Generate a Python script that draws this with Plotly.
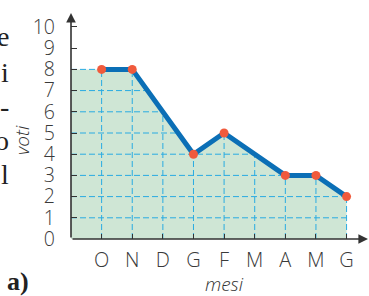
import numpy as np
import plotly.graph_objects as go

# ---- data ----
mesi = ["O", "N", "D", "G", "F", "M", "A", "M", "G"]
voti = [8, 8, None, 4, 5, None, 3, 3, 2]
y_ticks = list(range(0, 11))
frammenti = ["e", "i", "-", "o", "l"]

x_pos = list(range(1, len(mesi) + 1))
known_x = [x for x, v in zip(x_pos, voti) if v is not None]
known_v = [v for v in voti if v is not None]

def curve(x):
    return float(np.interp(x, known_x, known_v))

fig = go.Figure()

# green area under the curve (starting from the y axis at the first value)
fill_x = [0] + known_x + [known_x[-1], 0]
fill_y = [known_v[0]] + known_v + [0, 0]
fig.add_trace(go.Scatter(x=fill_x, y=fill_y, mode="lines", fill="toself",
                         fillcolor="#cfe6d5", line=dict(width=0),
                         hoverinfo="skip", showlegend=False))

# dashed guide lines under the curve
gx, gy = [], []
xs_fine = np.linspace(0, known_x[-1], 2001)
for k in range(1, int(max(known_v)) + 1):
    ok = [x for x in xs_fine if (x <= known_x[0] and known_v[0] >= k) or curve(x) >= k - 1e-9]
    if ok:
        gx += [0, max(ok), None]
        gy += [k, k, None]
for x in x_pos:
    gx += [x, x, None]
    gy += [0, curve(x), None]
fig.add_trace(go.Scatter(x=gx, y=gy, mode="lines",
                         line=dict(color="#29abe2", width=1, dash="6px,3px"),
                         hoverinfo="skip", showlegend=False))

# main line
fig.add_trace(go.Scatter(x=x_pos, y=voti, mode="lines", connectgaps=True,
                         line=dict(color="#0b6fb6", width=5),
                         showlegend=False))
# markers
fig.add_trace(go.Scatter(x=x_pos, y=voti, mode="markers",
                         marker=dict(color="#f05a3c", size=9),
                         showlegend=False))

axis_col = "#333333"
x_font = dict(family="Open Sans", size=20, color="#3a3a3a", weight=300)
y_font = dict(family="Open Sans", size=19.5, color="#3a3a3a", weight=300)

fig.update_xaxes(range=[0, 9.7], showgrid=False, zeroline=False, showline=False,
                 tickmode="array", tickvals=x_pos, ticktext=mesi,
                 ticks="inside", ticklen=5, tickwidth=1, tickcolor=axis_col,
                 tickfont=x_font, ticklabelstandoff=7)
fig.update_yaxes(range=[0, 10.66], showgrid=False, zeroline=False, showline=False,
                 tickmode="array", tickvals=y_ticks,
                 ticks="inside", ticklen=6, tickwidth=1, tickcolor=axis_col,
                 tickfont=y_font, ticklabelstandoff=15)

# axes with arrows
fig.add_annotation(x=9.7, y=0, ax=0, ay=0, xref="x", yref="y", axref="x", ayref="y",
                   text="", showarrow=True, arrowhead=2, arrowsize=1.2,
                   arrowwidth=1.6, arrowcolor=axis_col)
fig.add_annotation(x=0, y=10.66, ax=0, ay=0, xref="x", yref="y", axref="x", ayref="y",
                   text="", showarrow=True, arrowhead=2, arrowsize=1.2,
                   arrowwidth=1.6, arrowcolor=axis_col)

def py2paper(py):
    return 1 - (py - 13) / 226

# axis titles
fig.add_annotation(x=0, y=py2paper(140), xref="paper", yref="paper", xshift=-49,
                   xanchor="center", yanchor="middle", text="<i>voti</i>",
                   textangle=-90, showarrow=False,
                   font=dict(family="Open Sans", size=19, color="#333333", weight=300))
fig.add_annotation(x=5, y=py2paper(284), xref="x", yref="paper", text="<i>mesi</i>",
                   xanchor="center", yanchor="middle", showarrow=False,
                   font=dict(family="Open Sans", size=19, color="#333333", weight=300))

# cut-off text of the page on the left
frag_y = [36, 72, 106, 140, 174]
for t, py in zip(frammenti, frag_y):
    fig.add_annotation(x=0, y=py2paper(py), xref="paper", yref="paper",
                       xshift=-60, text=t, showarrow=False,
                       xanchor="right", yanchor="middle",
                       font=dict(family="Liberation Serif", size=28, color="#222222"))
fig.add_annotation(x=0, y=py2paper(281), xref="paper", yref="paper",
                   xshift=-40, text="<b>a)</b>", showarrow=False,
                   xanchor="right", yanchor="middle",
                   font=dict(family="Liberation Serif", size=26, color="#222222"))

fig.update_layout(width=369, height=296, margin=dict(l=71, r=1, t=13, b=57),
                  plot_bgcolor="white", paper_bgcolor="white")

fig.write_html("out.html", config={"displayModeBar": False},
               post_script="document.body.style.margin='0';document.body.style.overflow='hidden';")
